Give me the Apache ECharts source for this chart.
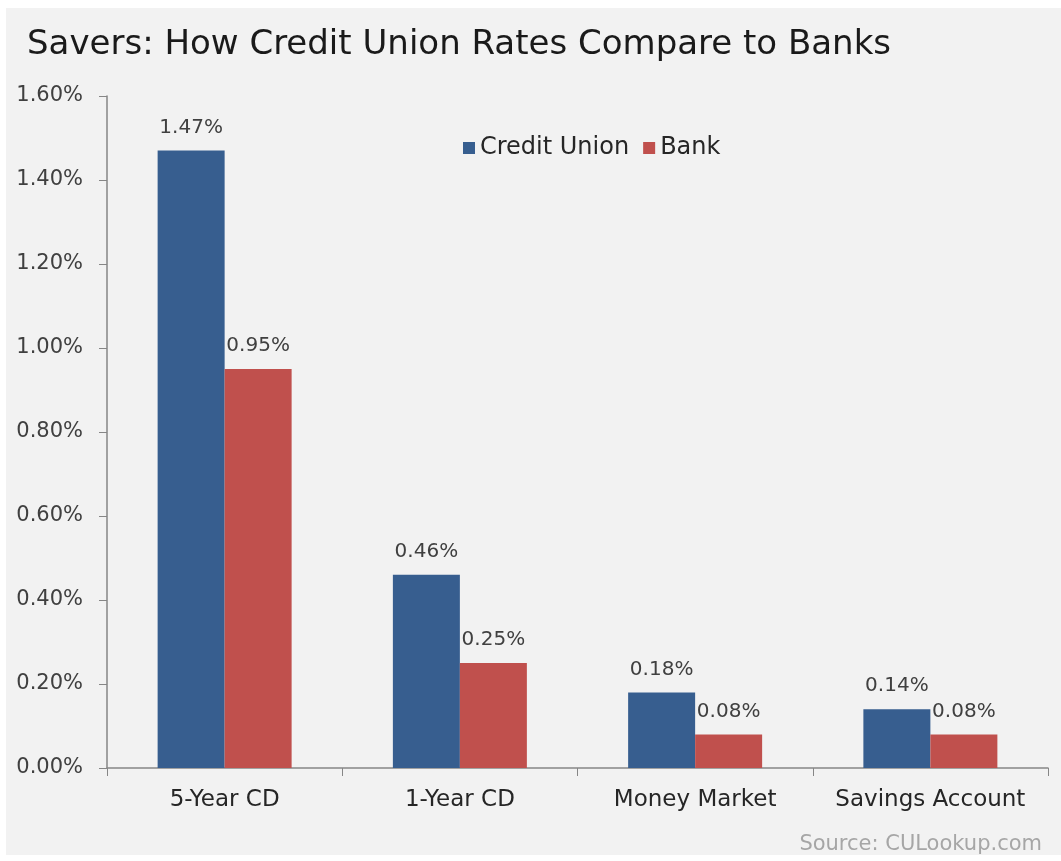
<!DOCTYPE html>
<html><head><meta charset="utf-8">
<script src="https://cdn.jsdelivr.net/npm/echarts@6/dist/echarts.min.js"></script>
<style>html,body{margin:0;padding:0;background:#fff}#c{width:1061px;height:861px}</style>
</head><body><div id="c"></div>
<script>
const categories = ['5-Year CD', '1-Year CD', 'Money Market', 'Savings Account'];
const creditUnion = [1.47, 0.46, 0.18, 0.14];
const bank = [0.95, 0.25, 0.08, 0.08];
const seriesNames = ['Credit Union', 'Bank'];
const titleText = 'Savers: How Credit Union Rates Compare to Banks';
const sourceText = 'Source: CULookup.com';

const chart = echarts.init(document.getElementById('c'));
const fmt = v => v.toFixed(2) + '%';
const labelStyle = {show: true, position: 'top', distance: 13, color: '#404040', fontSize: 20, fontFamily: 'DejaVu Sans', formatter: p => fmt(p.value)};
chart.setOption({
  backgroundColor: '#fff',
  animation: false,
  graphic: [
    {type: 'rect', left: 6, top: 8, z: -10, shape: {width: 1055, height: 847}, style: {fill: '#F2F2F2'}},
    {type: 'text', right: 19, top: 834, style: {text: sourceText, fill: '#A6A6A6', font: '21px "DejaVu Sans"'}}
  ],
  title: {text: titleText, left: 22, top: 23, textStyle: {fontFamily: 'DejaVu Sans', fontWeight: 'normal', fontSize: 34, color: '#1a1a1a'}},
  legend: {left: 458, top: 131, itemWidth: 12, itemHeight: 12, itemGap: 14, icon: 'rect', textStyle: {fontSize: 24, fontFamily: 'DejaVu Sans', color: '#262626'}, data: seriesNames},
  grid: {left: 107, right: 13, top: 96, bottom: 93},
  xAxis: {type: 'category', data: categories,
    axisLine: {lineStyle: {color: '#868686', width: 1.5}},
    axisTick: {show: true, interval: 0, length: 8, lineStyle: {color: '#868686'}},
    axisLabel: {interval: 0, color: '#262626', fontSize: 23, fontFamily: 'DejaVu Sans', margin: 21}},
  yAxis: {type: 'value', min: 0, max: 1.6, interval: 0.2,
    splitLine: {show: false},
    axisLine: {show: true, lineStyle: {color: '#868686', width: 1.5}},
    axisTick: {show: true, length: 8, lineStyle: {color: '#868686'}},
    axisLabel: {color: '#404040', fontSize: 21, fontFamily: 'DejaVu Sans', margin: 24, formatter: v => fmt(v)}},
  series: [
    {name: seriesNames[0], type: 'bar', data: creditUnion, barWidth: 67, barGap: '0%', itemStyle: {color: '#375E8F'}, label: labelStyle},
    {name: seriesNames[1], type: 'bar', data: bank, barWidth: 67, barGap: '0%', itemStyle: {color: '#C0504D'}, label: labelStyle}
  ]
});
</script></body></html>
